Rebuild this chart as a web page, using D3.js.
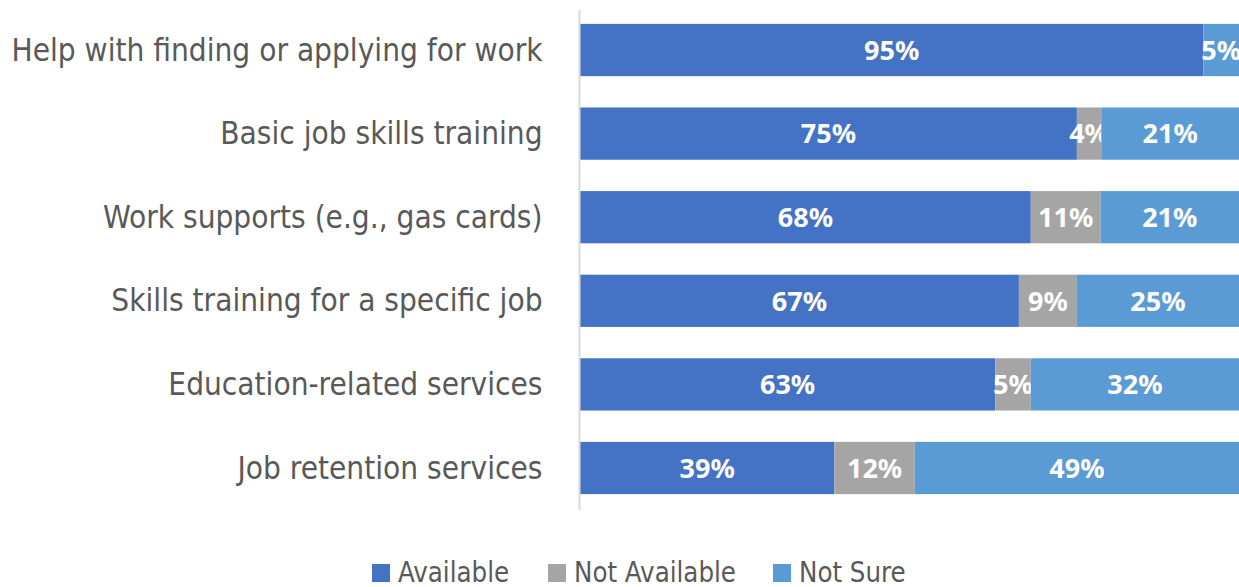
<!DOCTYPE html>
<html><head><meta charset="utf-8">
<script src="https://cdn.jsdelivr.net/npm/d3@7"></script>
<style>body{margin:0;background:#fff}svg{display:block}</style>
</head><body>
<svg id="c" width="1239" height="587"></svg>
<script>
const categories = ["Help with finding or applying for work","Basic job skills training","Work supports (e.g., gas cards)","Skills training for a specific job","Education-related services","Job retention services"];
const seriesNames = ["Available","Not Available","Not Sure"];
const available = [94.6, 75.4, 68.4, 66.6, 63.0, 38.6];
const notAvailable = [0, 3.7, 10.6, 8.8, 5.4, 12.2];
const notSure = [5.4, 20.9, 21.0, 24.6, 31.6, 49.2];
const colors = ["#4472C4","#A5A5A5","#5B9BD5"];

const svg = d3.select("#c");
const labelFont = "'DejaVu Sans Condensed','DejaVu Sans',sans-serif";
const x = d3.scaleLinear().domain([0,100]).range([580,1239]);
const y = d3.scaleBand().domain(categories).range([8,510]).paddingInner(0.375).paddingOuter(0.19);

const series = [available, notAvailable, notSure];
const rows = categories.map((c,i)=>({cat:c, vals:series.map(s=>s[i])}));

rows.forEach(r=>{
  let acc=0;
  r.vals.forEach((v,j)=>{
    const g = svg.append("g");
    if(v>0){
      g.append("rect").attr("x",x(acc)).attr("y",y(r.cat)).attr("width",x(acc+v)-x(acc)).attr("height",y.bandwidth()).attr("fill",colors[j]);
      g.append("text").attr("x",(x(acc)+x(acc+v))/2).attr("y",y(r.cat)+y.bandwidth()/2)
        .attr("text-anchor","middle").attr("dy","0.36em")
        .attr("fill","#fff").attr("font-family","'Noto Sans','Open Sans',sans-serif").attr("font-weight","bold").attr("font-size",27)
        .text(Math.round(v)+"%");
    }
    acc+=v;
  });
});

// axis
const axis = svg.append("g").attr("transform","translate(579.5,0)").call(d3.axisLeft(y).tickSize(0).tickPadding(37));
axis.select(".domain").attr("stroke","#d9d9d9").attr("stroke-width",2).attr("d","M0,10V510");
axis.selectAll("text").attr("fill","#595959").attr("font-family",labelFont).attr("font-size",32).attr("dy","0.33em");
let maxW=0; axis.selectAll("text").each(function(){maxW=Math.max(maxW,this.getComputedTextLength());});
const k = 531/maxW;
axis.selectAll("text").each(function(){
  d3.select(this).attr("textLength",this.getComputedTextLength()*k).attr("lengthAdjust","spacingAndGlyphs");
});

// legend
const legX = [372,548,773];
const leg = svg.append("g");
const legTexts=[];
seriesNames.forEach((n,i)=>{
  leg.append("rect").attr("x",legX[i]).attr("y",564).attr("width",18).attr("height",18).attr("fill",colors[i]);
  legTexts.push(leg.append("text").attr("x",legX[i]+26).attr("y",581.5)
    .attr("fill","#595959").attr("font-family",labelFont).attr("font-size",29).text(n));
});
const kl = 162/legTexts[1].node().getComputedTextLength();
legTexts.forEach(t=>t.attr("textLength",t.node().getComputedTextLength()*kl).attr("lengthAdjust","spacingAndGlyphs"));
</script>
</body></html>
